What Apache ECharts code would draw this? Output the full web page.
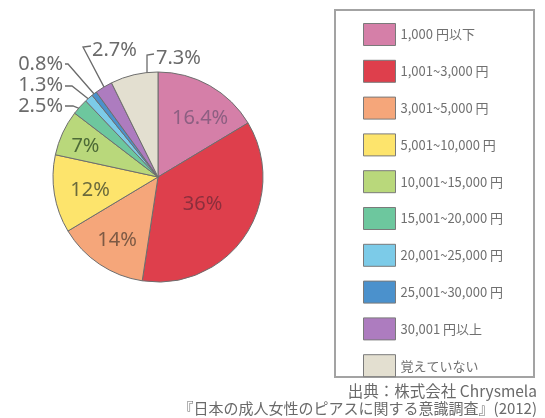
<!DOCTYPE html>
<html>
<head>
<meta charset="utf-8">
<script src="https://cdn.jsdelivr.net/npm/echarts@6/dist/echarts.min.js"></script>
<style>
html,body{margin:0;padding:0;background:#fff;}
#chart{width:545px;height:418px;}
</style>
</head>
<body>
<div id="chart"></div>
<script>
// ---- data ----
const categories = ['1,000 円以下', '1,001~3,000 円', '3,001~5,000 円', '5,001~10,000 円', '10,001~15,000 円', '15,001~20,000 円', '20,001~25,000 円', '25,001~30,000 円', '30,001 円以上', '覚えていない'];
const values = [16.4, 36, 14, 12, 7, 2.5, 1.3, 0.8, 2.7, 7.3];
const sourceLines = ['出典：株式会社 Chrysmela', '『日本の成人女性のピアスに関する意識調査』(2012)'];

// ---- styles ----
const colors = ['#d57fa8', '#de3f4c', '#f5a67a', '#fde46c', '#b9d87b', '#6dc79e', '#7ccbe8', '#4b91cc', '#ad7cbf', '#e3dfd0'];
const insideLabelColors = ['#8d5f82', '#8c2f3d', '#7d5a45', '#6b6a3c', '#4d6b37'];
const insideCount = 5;
const CX = 158, CY = 177, R = 105;
const insideRadiusFrac = [0.69, 0.5, 0.72, 0.66, 0.75];
const insideAngleShift = [6, -2, -1, -2, -2];
// outside label layout: anchor point, alignment, elbow, line end near text
const outsideLayout = {
  5: {x: 63, y: 106, align: 'right', elbow: [73, 106], end: [65, 106]},
  6: {x: 63, y: 85, align: 'right', elbow: [72, 86], end: [65, 86]},
  7: {x: 63, y: 64, align: 'right', elbow: [68, 64], end: [65, 64]},
  8: {x: 92, y: 50, align: 'left', elbow: [83, 47], end: [91, 46]},
  9: {x: 156, y: 58, align: 'left', elbow: [147, 55], end: [154, 54], vertical: true}
};

const chart = echarts.init(document.getElementById('chart'));

const data = categories.map((name, i) => {
  const inside = i < insideCount;
  return {
    name: name,
    value: values[i],
    itemStyle: {color: colors[i]},
    label: inside
      ? {position: 'inside', color: insideLabelColors[i], fontSize: 20}
      : {position: 'outside', color: '#6b6b6b', fontSize: 20},
    labelLine: {show: !inside}
  };
});

const option = {
  animation: false,
  backgroundColor: '#ffffff',
  legend: {
    orient: 'vertical',
    left: 363,
    top: 23,
    padding: 0,
    itemWidth: 32,
    itemHeight: 22,
    itemGap: 13.8,
    icon: 'rect',
    selectedMode: false,
    itemStyle: {borderColor: '#7a7a7a', borderWidth: 1},
    textStyle: {fontSize: 13, color: '#707070', fontFamily: "'Noto Sans CJK JP', 'Noto Sans', sans-serif", padding: [0, 0, 0, 0]},
    data: categories
  },
  graphic: [
    {type: 'rect', shape: {x: 335, y: 10, width: 199, height: 367}, style: {fill: 'none', stroke: '#a3a3a3', lineWidth: 2}},
    {type: 'text', x: 537, y: 391, style: {text: sourceLines[0], align: 'right', verticalAlign: 'middle', fill: '#6a6a6a', fontSize: 15.5, fontFamily: "'Noto Sans CJK JP', sans-serif"}},
    {type: 'text', x: 537, y: 408, style: {text: sourceLines[1], align: 'right', verticalAlign: 'middle', fill: '#6a6a6a', fontSize: 15, fontFamily: "'Noto Sans CJK JP', sans-serif"}}
  ],
  series: [{
    type: 'pie',
    center: [CX, CY],
    radius: R,
    startAngle: 90,
    clockwise: true,
    avoidLabelOverlap: false,
    itemStyle: {borderColor: '#6e6e6e', borderWidth: 1},
    label: {
      formatter: '{c}%',
      fontFamily: "'Noto Sans', sans-serif",
      fontSize: 20
    },
    labelLine: {lineStyle: {color: '#6b6b6b', width: 1.3}, length: 10, length2: 10},
    emphasis: {disabled: true},
    labelLayout: function (params) {
      const i = params.dataIndex;
      if (i < insideCount) {
        const lr = params.labelRect;
        const lx = lr.x + lr.width / 2, ly = lr.y + lr.height / 2;
        let ang = Math.atan2(lx - CX, CY - ly) + insideAngleShift[i] * Math.PI / 180;
        const rr = R * insideRadiusFrac[i];
        return {x: CX + rr * Math.sin(ang), y: CY - rr * Math.cos(ang), align: 'center', verticalAlign: 'middle'};
      }
      const L = outsideLayout[i];
      const p0 = params.labelLinePoints ? params.labelLinePoints[0] : [CX, CY];
      let start;
      if (L.vertical) {
        const rin = R * 0.92;
        const dx = L.elbow[0] - CX;
        start = [L.elbow[0], CY - Math.sqrt(rin * rin - dx * dx)];
      } else {
        start = [CX + (p0[0] - CX) * 0.95, CY + (p0[1] - CY) * 0.95];
      }
      return {
        x: L.x, y: L.y, align: L.align, verticalAlign: 'middle',
        labelLinePoints: [start, L.elbow, L.end]
      };
    },
    data: data
  }]
};
chart.setOption(option);
</script>
</body>
</html>
